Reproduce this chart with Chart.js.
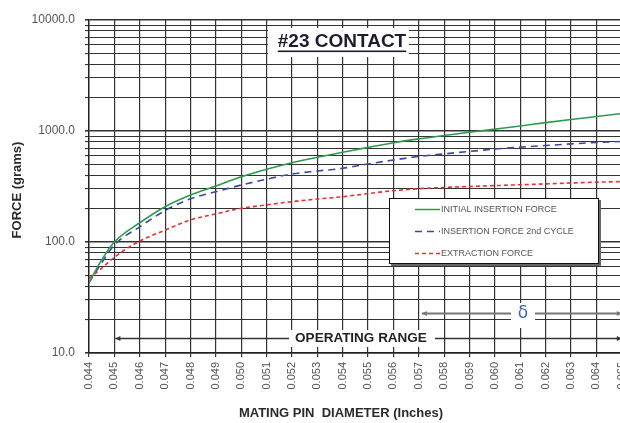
<!DOCTYPE html>
<html>
<head>
<meta charset="utf-8">
<script src="https://cdn.jsdelivr.net/npm/chart.js@4.4.1/dist/chart.umd.min.js"></script>
<style>
  html, body { margin: 0; padding: 0; background: #fff; overflow: hidden; }
  #wrap { width: 640px; height: 423px; }
</style>
</head>
<body>
<div id="wrap"><canvas id="forceChart" width="640" height="423"></canvas></div>
<script>
// pin diameters (inches) where the curves were read
var diameters = [0.044, 0.0445, 0.045, 0.046, 0.047, 0.048, 0.049, 0.050, 0.051, 0.052, 0.053,
  0.054, 0.055, 0.056, 0.057, 0.058, 0.059, 0.060, 0.061, 0.062, 0.063, 0.064, 0.065];

// forces in grams
var initialInsertion = [43, 69, 100, 149, 208, 265, 320, 387, 452, 518, 580,
  643, 712, 785, 850, 910, 975, 1040, 1110, 1190, 1270, 1350, 1440];
var secondInsertion = [43, 65, 94, 137, 192, 245, 284, 326, 368, 410, 436,
  461, 505, 548, 590, 622, 655, 688, 715, 740, 765, 788, 805];
var extraction = [47, 58, 73, 102, 128, 158, 179, 201, 216, 231, 244,
  256, 273, 290, 302, 310, 316, 322, 328, 334, 340, 346, 350];

var seriesNames = ['INITIAL INSERTION FORCE', 'INSERTION FORCE 2nd CYCLE', 'EXTRACTION FORCE'];

// x ticks every 0.001 in
var xTicks = [0.044, 0.045, 0.046, 0.047, 0.048, 0.049, 0.050, 0.051, 0.052, 0.053, 0.054,
  0.055, 0.056, 0.057, 0.058, 0.059, 0.060, 0.061, 0.062, 0.063, 0.064, 0.065];
// log grid: 1..9 per decade, labels only on decades
var yDecades = [10, 100, 1000, 10000];
var yTicks = [];
for (var d = 0; d < 3; d++) {
  for (var m = 1; m < 10; m++) yTicks.push(m * yDecades[d]);
}
yTicks.push(10000);

var operatingRange = [0.045, 0.065];
var deltaRange = [0.057, 0.065];

function points(values) {
  return values.map(function (v, i) { return { x: diameters[i], y: v }; });
}

var FONT = '"Liberation Sans", Arial, sans-serif';

// titles, legend box and range arrows
var decorations = {
  id: 'decorations',
  afterDraw: function (chart) {
    var ctx = chart.ctx;
    var xs = chart.scales.x;
    ctx.save();

    // chart title in a white box
    ctx.fillStyle = '#fff';
    ctx.fillRect(268, 28, 141, 29);
    ctx.fillStyle = '#1c1c2c';
    ctx.font = 'bold 19px ' + FONT;
    ctx.textAlign = 'center';
    ctx.textBaseline = 'middle';
    ctx.fillText('#23 CONTACT', 342, 42);
    var tw = ctx.measureText('#23 CONTACT').width;
    ctx.fillRect(342 - tw / 2, 50.5, tw, 1.6);

    // legend
    ctx.fillStyle = '#666';
    ctx.fillRect(391, 200, 210, 66);
    ctx.fillStyle = '#fff';
    ctx.fillRect(389, 198, 210, 66);
    ctx.strokeStyle = '#111';
    ctx.lineWidth = 1;
    ctx.strokeRect(389.5, 198.5, 209, 65);
    ctx.font = '9px ' + FONT;
    ctx.textAlign = 'left';
    chart.data.datasets.forEach(function (ds, i) {
      var ly = 209.5 + i * 22;
      ctx.beginPath();
      ctx.setLineDash(ds.borderDash || []);
      ctx.strokeStyle = ds.borderColor;
      ctx.lineWidth = 1.5;
      ctx.moveTo(415, ly);
      ctx.lineTo(440, ly);
      ctx.stroke();
      ctx.setLineDash([]);
      ctx.fillStyle = '#555';
      ctx.fillText(ds.label, 441, ly);
    });

    function arrowLine(xa, xb, yy, color, width) {
      ctx.strokeStyle = color;
      ctx.fillStyle = color;
      ctx.lineWidth = width;
      ctx.beginPath();
      ctx.moveTo(xa, yy);
      ctx.lineTo(xb, yy);
      ctx.stroke();
      [[xa, 1], [xb, -1]].forEach(function (e) {
        ctx.beginPath();
        ctx.moveTo(e[0], yy);
        ctx.lineTo(e[0] + 5 * e[1], yy - 2.5);
        ctx.lineTo(e[0] + 5 * e[1], yy + 2.5);
        ctx.closePath();
        ctx.fill();
      });
    }

    // operating range
    var oy = 338.5;
    arrowLine(xs.getPixelForValue(operatingRange[0]) + 1, xs.getPixelForValue(operatingRange[1]), oy, '#333', 1.4);
    ctx.fillStyle = '#fff';
    ctx.fillRect(289, 330, 146, 17);
    ctx.fillStyle = '#222';
    ctx.font = 'bold 13.5px ' + FONT;
    ctx.textAlign = 'center';
    ctx.fillText('OPERATING RANGE', 361, oy);

    // delta range
    var dy = 313.5;
    arrowLine(xs.getPixelForValue(deltaRange[0]) + 3, xs.getPixelForValue(deltaRange[1]), dy, '#777', 2);
    ctx.fillStyle = '#fff';
    ctx.fillRect(511, 303, 24, 25);
    ctx.fillStyle = '#3f63a8';
    ctx.font = '17px "DejaVu Sans", sans-serif';
    ctx.fillText('\u03B4', 523, dy);

    // axis titles
    ctx.fillStyle = '#2a2a2a';
    ctx.font = 'bold 13px ' + FONT;
    ctx.fillText('MATING PIN  DIAMETER (Inches)', 341, 413);
    ctx.translate(17.5, 190);
    ctx.rotate(-Math.PI / 2);
    ctx.fillText('FORCE (grams)', 0, 0);

    ctx.restore();
  }
};

var chart = new Chart(document.getElementById('forceChart').getContext('2d'), {
  type: 'line',
  data: {
    datasets: [{
      label: seriesNames[0],
      data: points(initialInsertion),
      borderColor: '#2e9a4e',
      borderWidth: 1.6
    }, {
      label: seriesNames[1],
      data: points(secondInsertion),
      borderColor: '#3b4a9c',
      borderWidth: 1.6,
      borderDash: [7, 5]
    }, {
      label: seriesNames[2],
      data: points(extraction),
      borderColor: '#e8312f',
      borderWidth: 1.6,
      borderDash: [4, 3]
    }]
  },
  options: {
    responsive: false,
    animation: false,
    devicePixelRatio: 1,
    layout: { padding: { top: 20, right: 15, left: 0, bottom: 0 } },
    elements: {
      point: { radius: 0 },
      line: { cubicInterpolationMode: 'monotone', fill: false }
    },
    plugins: {
      legend: { display: false },
      tooltip: { enabled: false }
    },
    scales: {
      x: {
        type: 'linear',
        min: 0.044,
        max: 0.065,
        afterBuildTicks: function (scale) {
          scale.ticks = xTicks.map(function (v) { return { value: v }; });
        },
        afterFit: function (scale) { scale.height = 70; },
        grid: { color: '#333', lineWidth: 1.2, tickLength: 4 },
        border: { color: '#222', width: 1.4 },
        ticks: {
          autoSkip: false,
          maxRotation: 90,
          minRotation: 90,
          padding: 5,
          color: '#555',
          font: { family: FONT, size: 11 },
          callback: function (v) { return v.toFixed(3); }
        }
      },
      y: {
        type: 'logarithmic',
        min: 10,
        max: 10000,
        afterBuildTicks: function (scale) {
          scale.ticks = yTicks.map(function (v) { return { value: v }; });
        },
        afterFit: function (scale) { scale.width = 89; },
        grid: {
          color: '#333',
          tickLength: 4,
          lineWidth: function (c) {
            return yDecades.indexOf(c.tick && c.tick.value) >= 0 ? 1.6 : 1.1;
          }
        },
        border: { color: '#222', width: 1.4 },
        ticks: {
          autoSkip: false,
          padding: 10,
          color: '#555',
          font: { family: FONT, size: 12 },
          callback: function (v) {
            return yDecades.indexOf(v) >= 0 ? v.toFixed(1) : '';
          }
        }
      }
    }
  },
  plugins: [decorations]
});
</script>
</body>
</html>
